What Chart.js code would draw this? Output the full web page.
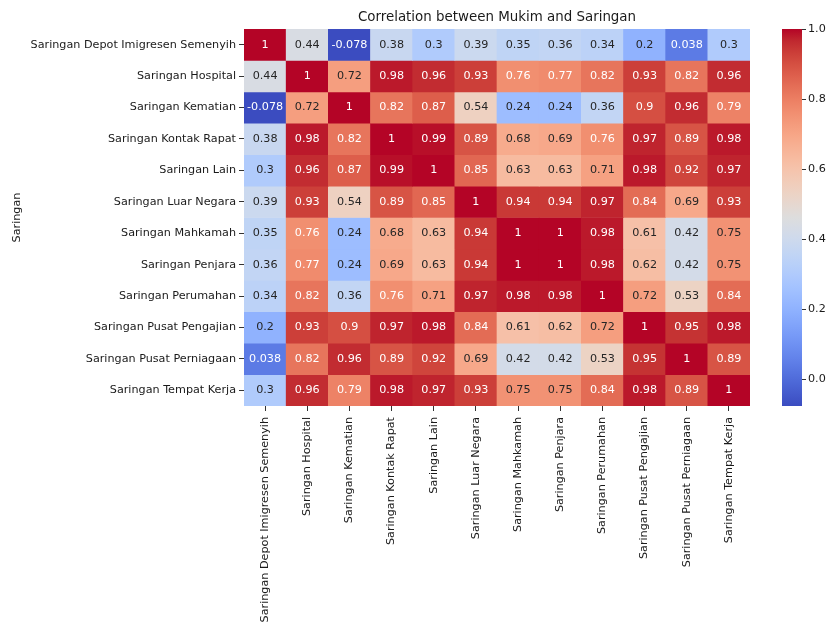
<!DOCTYPE html>
<html>
<head>
<meta charset="utf-8">
<script src="https://cdn.jsdelivr.net/npm/chart.js@4"></script>
<style>
  html, body { margin: 0; padding: 0; background: #ffffff; }
  #wrap { width: 827px; height: 624px; }
</style>
</head>
<body>
<div id="wrap"><canvas id="c" width="827" height="624"></canvas></div>
<script>
// Screening categories (same order on both axes)
const categories = [
  'Saringan Depot Imigresen Semenyih',
  'Saringan Hospital',
  'Saringan Kematian',
  'Saringan Kontak Rapat',
  'Saringan Lain',
  'Saringan Luar Negara',
  'Saringan Mahkamah',
  'Saringan Penjara',
  'Saringan Perumahan',
  'Saringan Pusat Pengajian',
  'Saringan Pusat Perniagaan',
  'Saringan Tempat Kerja'
];

// Correlation coefficients, one array per row
const rowDepot      = [1, 0.44, -0.078, 0.38, 0.3, 0.39, 0.35, 0.36, 0.34, 0.2, 0.038, 0.3];
const rowHospital   = [0.44, 1, 0.72, 0.98, 0.96, 0.93, 0.76, 0.77, 0.82, 0.93, 0.82, 0.96];
const rowKematian   = [-0.078, 0.72, 1, 0.82, 0.87, 0.54, 0.24, 0.24, 0.36, 0.9, 0.96, 0.79];
const rowKontak     = [0.38, 0.98, 0.82, 1, 0.99, 0.89, 0.68, 0.69, 0.76, 0.97, 0.89, 0.98];
const rowLain       = [0.3, 0.96, 0.87, 0.99, 1, 0.85, 0.63, 0.63, 0.71, 0.98, 0.92, 0.97];
const rowLuarNegara = [0.39, 0.93, 0.54, 0.89, 0.85, 1, 0.94, 0.94, 0.97, 0.84, 0.69, 0.93];
const rowMahkamah   = [0.35, 0.76, 0.24, 0.68, 0.63, 0.94, 1, 1, 0.98, 0.61, 0.42, 0.75];
const rowPenjara    = [0.36, 0.77, 0.24, 0.69, 0.63, 0.94, 1, 1, 0.98, 0.62, 0.42, 0.75];
const rowPerumahan  = [0.34, 0.82, 0.36, 0.76, 0.71, 0.97, 0.98, 0.98, 1, 0.72, 0.53, 0.84];
const rowPengajian  = [0.2, 0.93, 0.9, 0.97, 0.98, 0.84, 0.61, 0.62, 0.72, 1, 0.95, 0.98];
const rowPerniagaan = [0.038, 0.82, 0.96, 0.89, 0.92, 0.69, 0.42, 0.42, 0.53, 0.95, 1, 0.89];
const rowTempatKerja= [0.3, 0.96, 0.79, 0.98, 0.97, 0.93, 0.75, 0.75, 0.84, 0.98, 0.89, 1];

const rows = [rowDepot, rowHospital, rowKematian, rowKontak, rowLain, rowLuarNegara,
              rowMahkamah, rowPenjara, rowPerumahan, rowPengajian, rowPerniagaan, rowTempatKerja];

// Colour bar tick values
const colorbarTicks = [0, 0.2, 0.4, 0.6, 0.8, 1.0];

const chartTitle = 'Correlation between Mukim and Saringan';
const yAxisTitle = 'Saringan';

// Colour scale limits follow the data range
const vmin = Math.min(...rows.flat());
const vmax = Math.max(...rows.flat());

// Diverging blue-white-red colour map (coolwarm)
const COOLWARM = [
  [59,76,192],[68,90,204],[77,104,215],[87,117,225],[98,130,234],[108,142,241],
  [119,154,247],[130,165,251],[141,176,254],[152,185,255],[163,194,255],[174,201,253],
  [184,208,249],[194,213,244],[204,217,238],[213,219,230],[221,221,221],[229,216,209],
  [236,211,197],[241,204,185],[245,196,173],[247,187,160],[247,177,148],[247,166,135],
  [244,154,123],[241,141,111],[236,127,99],[229,112,88],[222,96,77],[213,80,66],
  [203,62,56],[192,40,47],[180,4,38]
];

function cmap(t) {
  t = Math.max(0, Math.min(1, t));
  const n = COOLWARM.length - 1;
  const f = t * n;
  const i = Math.min(n - 1, Math.floor(f));
  const u = f - i;
  const a = COOLWARM[i], b = COOLWARM[i + 1];
  return [0, 1, 2].map(k => a[k] + (b[k] - a[k]) * u);
}
function rgb(c) { return `rgb(${c.map(Math.round).join(',')})`; }
function colorFor(v) { return cmap((v - vmin) / (vmax - vmin)); }

// Text colour chosen from the cell's relative luminance
function luminance(c) {
  const lin = c.map(x => {
    x /= 255;
    return x <= 0.03928 ? x / 12.92 : Math.pow((x + 0.055) / 1.055, 2.4);
  });
  return 0.2126 * lin[0] + 0.7152 * lin[1] + 0.0722 * lin[2];
}

const FONT = 'DejaVu Sans';
const TEXT_DARK = '#262626';

// One floating-bar dataset per row; each bar spans its row band
const datasets = rows.map((vals, r) => ({
  label: categories[r],
  data: vals.map(() => [r, r + 1]),
  values: vals,
  backgroundColor: vals.map(v => rgb(colorFor(v))),
  borderWidth: 0,
  grouped: false,
  barPercentage: 1,
  categoryPercentage: 1,
  yAxisID: 'y'
}));

// Cell annotations
const annotate = {
  id: 'annotate',
  afterDatasetsDraw(chart) {
    const ctx = chart.ctx;
    ctx.save();
    ctx.font = `11.2px "${FONT}"`;
    ctx.textAlign = 'center';
    ctx.textBaseline = 'middle';
    chart.data.datasets.forEach((ds, di) => {
      const meta = chart.getDatasetMeta(di);
      meta.data.forEach((el, i) => {
        const v = ds.values[i];
        const c = colorFor(v);
        ctx.fillStyle = luminance(c) > 0.408 ? TEXT_DARK : '#ffffff';
        ctx.fillText(String(v), el.x, (el.y + el.base) / 2);
      });
    });
    ctx.restore();
  }
};

// Title centred over the plotting area
const titleOverArea = {
  id: 'titleOverArea',
  afterDraw(chart) {
    const {ctx, chartArea} = chart;
    ctx.save();
    ctx.font = `13.4px "${FONT}"`;
    ctx.fillStyle = '#1a1a1a';
    ctx.textAlign = 'center';
    ctx.textBaseline = 'middle';
    ctx.fillText(chartTitle, (chartArea.left + chartArea.right) / 2, 18);
    ctx.restore();
  }
};

// Colour bar drawn along the 'cb' scale
const colorbar = {
  id: 'colorbar',
  afterDraw(chart) {
    const sc = chart.scales.cb;
    const {ctx, chartArea} = chart;
    const x0 = chartArea.right + 32, w = 20;
    const yTop = sc.getPixelForValue(vmax);
    const yBot = sc.getPixelForValue(vmin);
    const g = ctx.createLinearGradient(0, yBot, 0, yTop);
    COOLWARM.forEach((c, i) => g.addColorStop(i / (COOLWARM.length - 1), rgb(c)));
    ctx.save();
    ctx.fillStyle = g;
    ctx.fillRect(x0, yTop, w, yBot - yTop);
    ctx.strokeStyle = '#333333';
    ctx.lineWidth = 1;
    colorbarTicks.forEach(t => {
      const y = Math.round(sc.getPixelForValue(t)) + 0.5;
      ctx.beginPath();
      ctx.moveTo(x0 + w, y);
      ctx.lineTo(x0 + w + 4, y);
      ctx.stroke();
    });
    ctx.restore();
  }
};

new Chart(document.getElementById('c'), {
  type: 'bar',
  data: { labels: categories, datasets },
  options: {
    responsive: false,
    animation: false,
    layout: { padding: { top: 29, left: 0, right: 0, bottom: 0 } },
    plugins: {
      legend: { display: false },
      tooltip: { enabled: false },
      title: { display: false }
    },
    scales: {
      x: {
        type: 'category',
        offset: true,
        border: { display: false },
        grid: { display: true, drawOnChartArea: false, drawTicks: true, tickLength: 5,
                offset: false, color: '#333333', lineWidth: 1 },
        ticks: { autoSkip: false, minRotation: 90, maxRotation: 90, padding: 6,
                 color: '#1a1a1a', font: { family: FONT, size: 11.2 } },
        afterFit(s) { s.height = 218; }
      },
      y: {
        type: 'linear',
        position: 'left',
        min: 0,
        max: categories.length,
        reverse: true,
        border: { display: false },
        grid: { display: true, drawOnChartArea: false, drawTicks: true, tickLength: 5,
                color: '#333333', lineWidth: 1 },
        afterBuildTicks(s) { s.ticks = categories.map((_, i) => ({ value: i + 0.5 })); },
        ticks: { autoSkip: false, padding: 3, color: '#1a1a1a',
                 font: { family: FONT, size: 11.2 },
                 callback: (v, i) => categories[i] },
        title: { display: true, text: yAxisTitle, color: '#1a1a1a',
                 font: { family: FONT, size: 11.2 }, padding: { top: 10.5, bottom: 0 } },
        afterFit(s) { s.width = 244; }
      },
      cb: {
        type: 'linear',
        position: 'right',
        min: vmin,
        max: vmax,
        border: { display: false },
        // invisible tick marks reserve the room where the colour bar sits
        grid: { display: true, drawOnChartArea: false, drawTicks: true, tickLength: 56,
                color: 'rgba(0,0,0,0)' },
        afterBuildTicks(s) { s.ticks = colorbarTicks.map(v => ({ value: v })); },
        ticks: { autoSkip: false, padding: 2, color: '#1a1a1a',
                 font: { family: FONT, size: 11.2 },
                 callback: v => Number(v).toFixed(1) },
        afterFit(s) { s.width = 77; }
      }
    }
  },
  plugins: [annotate, titleOverArea, colorbar]
});
</script>
</body>
</html>
